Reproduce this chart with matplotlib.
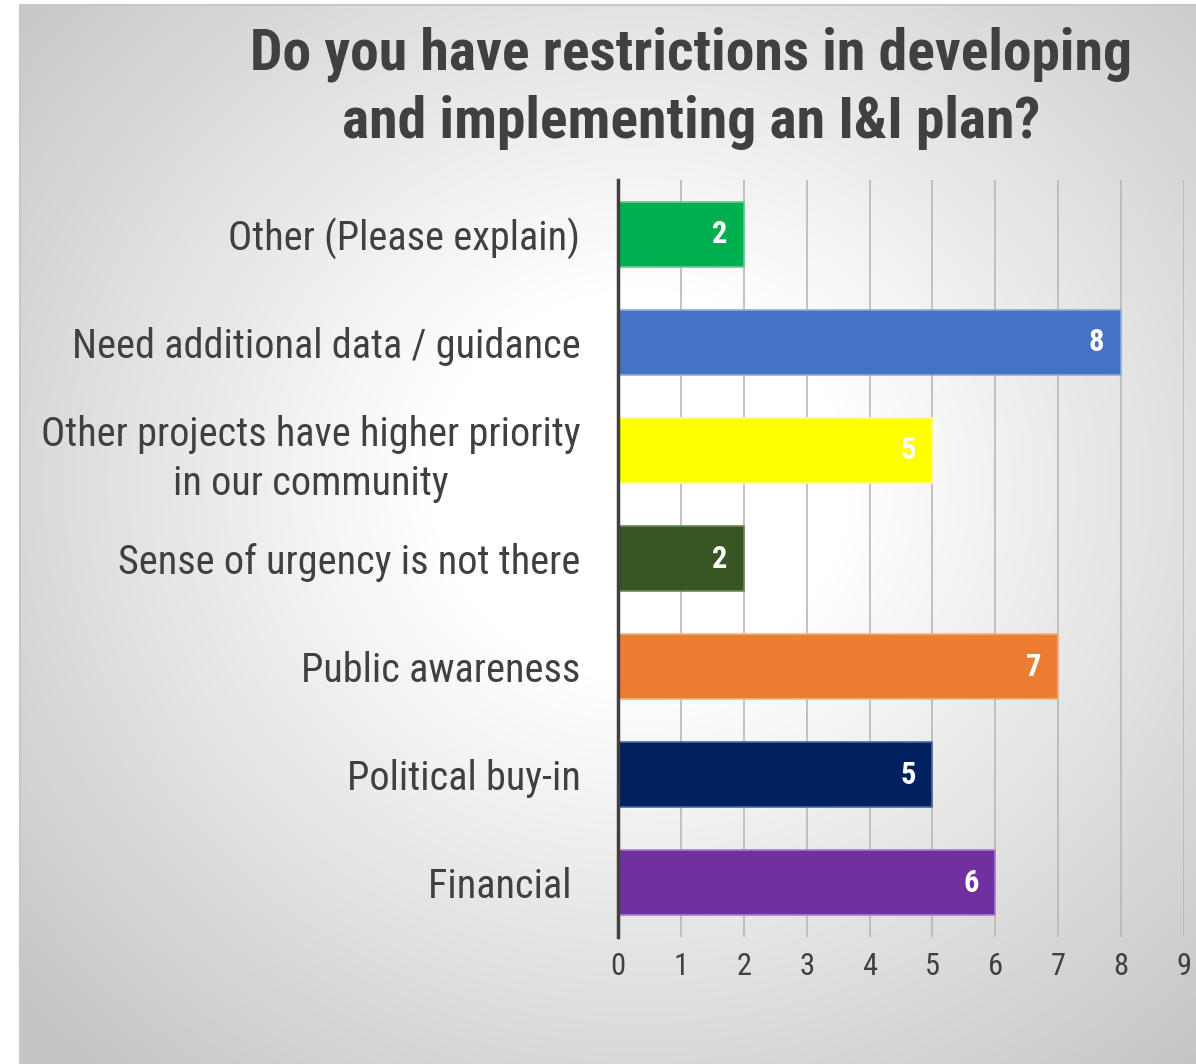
import numpy as np
import matplotlib
matplotlib.use("Agg")
import matplotlib.pyplot as plt
from matplotlib import font_manager

categories = [
    "Other (Please explain)",
    "Need additional data / guidance",
    "Other projects have higher priority\nin our community",
    "Sense of urgency is not there",
    "Public awareness",
    "Political buy-in",
    "Financial ",
]
counts = [2, 8, 5, 2, 7, 5, 6]
bar_colors = ["#00B050", "#4472C4", "#FFFF00", "#375623", "#ED7D31", "#002060", "#7030A0"]
edge_colors = ["#5fd08f", "#8faadc", "#ffff80", "#6b8a55", "#f4b183", "#4a6aa0", "#a87dd0"]
x_ticks = list(range(0, 10))
title = "Do you have restrictions in developing\nand implementing an I&I plan?"

# narrow sans, close to Arial Narrow
installed = {f.name for f in font_manager.fontManager.ttflist}
wanted = ["Roboto Condensed", "PT Sans Narrow", "Archivo Narrow", "Barlow Semi Condensed"]
fams = [f for f in wanted if f in installed] + ["DejaVu Sans"]
plt.rcParams["font.family"] = fams

TXT = "#404040"
W, H = 1196, 1064
fig = plt.figure(figsize=(W / 100, H / 100), dpi=100)
fig.patch.set_facecolor("white")

# background panel with a soft radial gradient
bg = fig.add_axes([20 / W, 0, 1 - 20 / W, 1 - 5 / H], zorder=-10)
yy, xx = np.mgrid[0:1059, 0:1176]
r = np.sqrt(((xx - 620) / 600.0) ** 2 + ((yy - 480) / 560.0) ** 2)
t = np.clip((r - 0.35) / 1.05, 0, 1)
shade = 1.0 - 0.23 * t
bg.imshow(np.dstack([shade] * 3), aspect="auto", interpolation="bilinear")
bg.set_xticks([])
bg.set_yticks([])
for side in ["right", "bottom"]:
    bg.spines[side].set_visible(False)
for side in ["left", "top"]:
    bg.spines[side].set_color("#c8c8c8")
    bg.spines[side].set_linewidth(1.5)

fig.text(691 / W, 1 - 88 / H, title, ha="center", va="center", fontsize=41.5,
         fontweight="bold", color=TXT, linespacing=1.3)

ax = fig.add_axes([618 / W, 127 / H, 566 / W, 757 / H])
ax.patch.set_alpha(0)
y = np.arange(len(categories))
ax.barh(y, counts, height=0.6, color=bar_colors, edgecolor=edge_colors, linewidth=1.2, zorder=3)
ax.set_xlim(0, 9)
ax.set_ylim(len(categories) - 0.5, -0.5)

ax.set_xticks(x_ticks)
ax.set_xticklabels([str(v) for v in x_ticks], fontsize=22, color=TXT)
ax.set_yticks(y)
ax.set_yticklabels(categories, fontsize=29, color=TXT, linespacing=1.3)
for lab in ax.get_yticklabels():
    lab.set_multialignment("center")
ax.tick_params(axis="x", length=0, pad=11)
ax.tick_params(axis="y", length=0, pad=27)

ax.grid(axis="x", color="#b8b8b8", linewidth=1.2, zorder=0)
ax.grid(axis="y", visible=False)
ax.set_axisbelow(True)
for side in ["top", "right", "bottom"]:
    ax.spines[side].set_visible(False)
ax.spines["left"].set_color("#404040")
ax.spines["left"].set_linewidth(2.5)
ax.spines["left"].set_zorder(4)

for yi, v in zip(y, counts):
    ax.annotate(str(v), xy=(v, yi), xytext=(-12, 0), textcoords="offset points",
                ha="right", va="center", fontsize=22, fontweight="bold", color="white", zorder=5)

fig.savefig("out.png", dpi=100)
